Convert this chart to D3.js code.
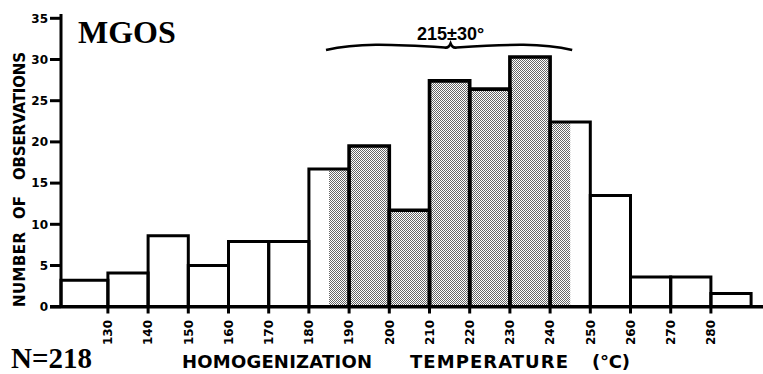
<!DOCTYPE html>
<html>
<head>
<meta charset="utf-8">
<script src="https://cdn.jsdelivr.net/npm/d3@7"></script>
<style>
  body { margin: 0; background: #fff; }
  svg { display: block; }
</style>
</head>
<body>
<svg id="chart" width="763" height="374"></svg>
<script>
// histogram bins (lower edge, deg C) and counts
const binStarts = [120, 130, 140, 150, 160, 170, 180, 190, 200, 210, 220, 230, 240, 250, 260, 270, 280];
const counts = [3.2, 4.1, 8.6, 5.0, 7.9, 7.9, 16.7, 19.5, 11.7, 27.4, 26.4, 30.3, 22.4, 13.5, 3.6, 3.6, 1.6];
const binWidth = 10;
const xTicks = [130, 140, 150, 160, 170, 180, 190, 200, 210, 220, 230, 240, 250, 260, 270, 280];
const yTicks = [0, 5, 10, 15, 20, 25, 30, 35];
const modeRange = [185, 245];
const modeCenter = 215;
const modeLabel = '215\u00b130\u00b0';

const svg = d3.select('#chart');
const axisX = 61;
const axisY = 306.7;
const sans = '"DejaVu Sans", Verdana, sans-serif';

const x = d3.scaleLinear().domain([120, 290]).range([67.7, 751.1]);
const y = d3.scaleLinear().domain([0, 35]).range([axisY, 18.3]);

// stipple pattern for the shaded range
const pat = svg.append('defs').append('pattern')
  .attr('id', 'stipple')
  .attr('width', 2).attr('height', 2)
  .attr('patternUnits', 'userSpaceOnUse');
pat.append('rect').attr('width', 2).attr('height', 2).attr('fill', '#fff');
pat.append('rect').attr('width', 1).attr('height', 1).attr('fill', '#666');
pat.append('rect').attr('x', 1).attr('y', 1).attr('width', 1).attr('height', 1).attr('fill', '#666');

const bins = binStarts.map((s, i) => ({ x0: s, x1: s + binWidth, n: counts[i] }));
const left = (d, i) => (i === 0 ? axisX : x(d.x0));

// shaded part of each bar inside the mode range
svg.append('g')
  .selectAll('rect')
  .data(bins.filter((d) => d.x1 > modeRange[0] && d.x0 < modeRange[1]))
  .enter()
  .append('rect')
  .attr('x', (d) => x(Math.max(d.x0, modeRange[0])))
  .attr('width', (d) => x(Math.min(d.x1, modeRange[1])) - x(Math.max(d.x0, modeRange[0])))
  .attr('y', (d) => y(d.n))
  .attr('height', (d) => axisY - y(d.n))
  .attr('fill', 'url(#stipple)');

// bar outlines
svg.append('g')
  .selectAll('path')
  .data(bins)
  .enter()
  .append('path')
  .attr('d', (d, i) => `M${left(d, i)},${axisY}V${y(d.n)}H${x(d.x1)}V${axisY}`)
  .attr('fill', 'none')
  .attr('stroke', '#000')
  .attr('stroke-width', (d) => (d.x0 >= 190 && d.x1 <= 240 ? 3.6 : 3));

// axes
svg.append('line')
  .attr('x1', 50).attr('x2', 763)
  .attr('y1', axisY).attr('y2', axisY)
  .attr('stroke', '#000').attr('stroke-width', 3.5);
svg.append('line')
  .attr('x1', axisX).attr('x2', axisX)
  .attr('y1', 14).attr('y2', axisY)
  .attr('stroke', '#000').attr('stroke-width', 3);

svg.append('g')
  .selectAll('line')
  .data(yTicks)
  .enter()
  .append('line')
  .attr('x1', 50).attr('x2', axisX)
  .attr('y1', (d) => y(d)).attr('y2', (d) => y(d))
  .attr('stroke', '#000').attr('stroke-width', 3);

svg.append('g')
  .selectAll('text')
  .data(yTicks)
  .enter()
  .append('text')
  .attr('x', 48)
  .attr('y', (d) => y(d))
  .attr('dy', '0.36em')
  .attr('text-anchor', 'end')
  .style('font', `bold 12px ${sans}`)
  .text((d) => d);

svg.append('g')
  .selectAll('line')
  .data(xTicks)
  .enter()
  .append('line')
  .attr('x1', (d) => x(d)).attr('x2', (d) => x(d))
  .attr('y1', axisY).attr('y2', 313.5)
  .attr('stroke', '#000').attr('stroke-width', 3);

svg.append('g')
  .selectAll('text')
  .data(xTicks)
  .enter()
  .append('text')
  .attr('transform', (d) => `translate(${x(d)},320) rotate(-90)`)
  .attr('dy', '0.36em')
  .attr('text-anchor', 'end')
  .style('font', `bold 12px ${sans}`)
  .text((d) => d);

// brace over the mode range
const bl = x(modeRange[0]) - 3, br = x(modeRange[1]) + 2, bc = x(modeCenter) + 1;
const hl = bc - bl, hr = br - bc;
svg.append('path')
  .attr('d', `M${bl},50 C${bl + 0.25 * hl},43 ${bc - 0.5 * hl},44 ${bc - 6},47.5 ` +
    `Q${bc - 2},48.5 ${bc},43.5 Q${bc + 2},48.5 ${bc + 6},47.5 ` +
    `C${bc + 0.5 * hr},44 ${br - 0.25 * hr},43 ${br},50`)
  .attr('fill', 'none')
  .attr('stroke', '#000')
  .attr('stroke-width', 2.6);

svg.append('text')
  .attr('x', bc)
  .attr('y', 40)
  .attr('text-anchor', 'middle')
  .style('font', 'bold 18px "Liberation Sans", Arial, sans-serif')
  .text(modeLabel);

// titles
svg.append('text')
  .attr('x', 78).attr('y', 43)
  .style('font', 'bold 32px "Liberation Serif", "Times New Roman", serif')
  .text('MGOS');

svg.append('text')
  .attr('x', 11).attr('y', 368)
  .style('font', 'bold 29px "Liberation Serif", "Times New Roman", serif')
  .text('N=218');

const xTitle = svg.append('text')
  .attr('y', 368)
  .style('font', `bold 18px ${sans}`);
xTitle.append('tspan').attr('x', 182).attr('textLength', 190).attr('lengthAdjust', 'spacing').text('HOMOGENIZATION');
xTitle.append('tspan').attr('x', 410).attr('textLength', 158).attr('lengthAdjust', 'spacing').text('TEMPERATURE');
xTitle.append('tspan').attr('x', 592).attr('textLength', 38).attr('lengthAdjust', 'spacing').text('(\u00b0C)');

const yTitle = svg.append('text')
  .attr('transform', 'translate(24.5,307) rotate(-90)')
  .style('font', `bold 15px ${sans}`);
yTitle.append('tspan').attr('x', 0).attr('textLength', 75).attr('lengthAdjust', 'spacing').text('NUMBER');
yTitle.append('tspan').attr('x', 88).text('OF');
yTitle.append('tspan').attr('x', 127).attr('textLength', 128).attr('lengthAdjust', 'spacing').text('OBSERVATIONS');
</script>
</body>
</html>
